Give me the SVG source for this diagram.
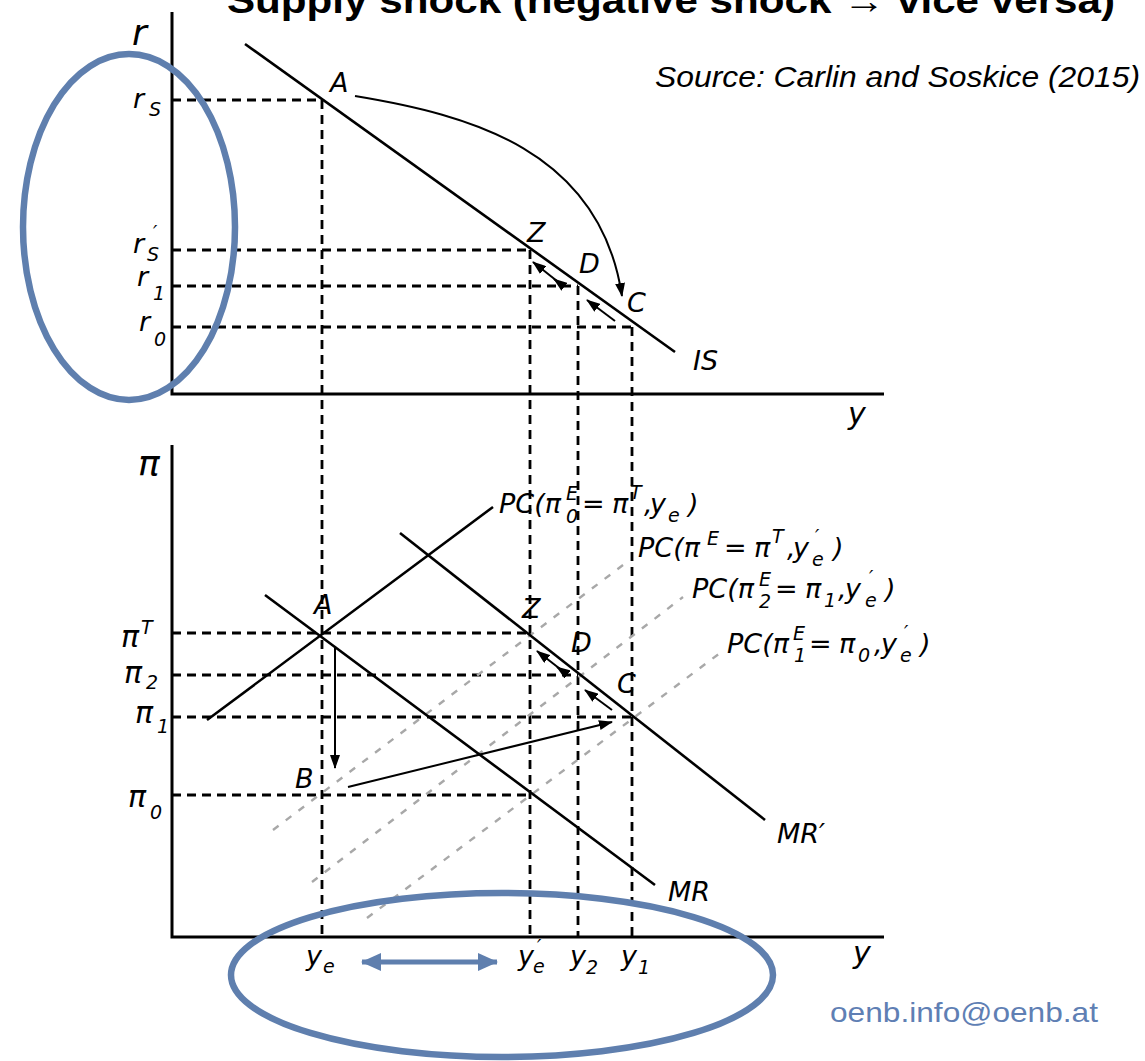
<svg xmlns="http://www.w3.org/2000/svg" width="1145" height="1061" viewBox="0 0 1145 1061">
<style>
.ax{stroke:#000;stroke-width:3;fill:none}
.ln{stroke:#000;stroke-width:2.6;fill:none}
.dash{stroke:#000;stroke-width:2.8;stroke-dasharray:9 6;fill:none}
.grey{stroke:#a8a8a8;stroke-width:2.4;stroke-dasharray:7 9;fill:none}
.arr{stroke:#000;stroke-width:2;fill:none;marker-end:url(#ah)}
.blue{stroke:#5f7fae;stroke-width:6.5;fill:none}
.t{font-family:"DejaVu Sans","Open Sans",sans-serif;font-style:italic;font-size:27px;fill:#000}
.s{font-size:19px}
.big{font-size:36px}
</style>
<defs>
<marker id="ah" markerUnits="userSpaceOnUse" markerWidth="14" markerHeight="10" refX="13" refY="5" orient="auto">
<path d="M0,0 L14,5 L0,10 z" fill="#000"/>
</marker>
<marker id="bh" markerUnits="userSpaceOnUse" markerWidth="20" markerHeight="18" refX="19" refY="9" orient="auto-start-reverse">
<path d="M0,0 L20,9 L0,18 z" fill="#5f7fae"/>
</marker>
</defs>

<text id="title" x="227" y="13" font-family="Liberation Sans, Arial, sans-serif" font-weight="bold" font-size="36" textLength="888" lengthAdjust="spacingAndGlyphs">Supply shock (negative shock → vice versa)</text>
<text id="source" x="655" y="87" font-family="Liberation Sans, Arial, sans-serif" font-style="italic" font-size="29" textLength="485" lengthAdjust="spacingAndGlyphs">Source: Carlin and Soskice (2015)</text>
<text id="email" x="830" y="1022" font-family="Liberation Sans, Arial, sans-serif" font-size="28" fill="#5f7fb4" textLength="268" lengthAdjust="spacingAndGlyphs">oenb.info@oenb.at</text>

<g id="axes">
<path class="ax" d="M172,12 V394 H884"/>
<path class="ax" d="M172,445 V937 H884"/>
</g>

<g id="connectors">
<path class="dash" d="M172,100 H322"/>
<path class="dash" d="M172,250 H530"/>
<path class="dash" d="M172,286 H578"/>
<path class="dash" d="M172,327 H632"/>
<path class="dash" d="M322,100 V937"/>
<path class="dash" d="M530,250 V937"/>
<path class="dash" d="M578,286 V937"/>
<path class="dash" d="M632,327 V937"/>
<path class="dash" d="M172,633 H530"/>
<path class="dash" d="M172,675 H578"/>
<path class="dash" d="M172,717 H632"/>
<path class="dash" d="M172,795 H530"/>
<path class="grey" d="M273,830 L627,562"/>
<path class="grey" d="M312,882 L683,597"/>
<path class="grey" d="M367,918 L720,653"/>
<path class="ln" d="M245,44 L675,352"/>
<path class="ln" d="M207,720 L493,507"/>
<path class="ln" d="M265,595 L655,885"/>
<path class="ln" d="M400,533 L765,820"/>
<path class="arr" d="M355,96 C470,115 600,150 622,296"/>
<path class="arr" d="M615,321 L587,300"/>
<path class="arr" d="M562,285 L533,262"/>
<path class="arr" d="M562,285 L554,279"/>
<path class="arr" d="M335,648 V768"/>
<path class="arr" d="M348,787 L612,722"/>
<path class="arr" d="M612,710 L585,690"/>
<path class="arr" d="M564,672 L537,651"/>
<path class="arr" d="M564,672 L557,667"/>
<ellipse class="blue" cx="129" cy="227" rx="106" ry="173"/>
<ellipse class="blue" cx="502" cy="975" rx="271" ry="82"/>
<path d="M362,962 H497" stroke="#5f7fae" stroke-width="5" marker-start="url(#bh)" marker-end="url(#bh)"/>
</g>

<g id="top-labels">
<text class="t big" x="132" y="45">r</text>
<text class="t" x="133" y="108">r</text><text class="t s" x="149" y="116">S</text>
<text class="t" x="133" y="253">r</text><text class="t s" x="153" y="239">′</text><text class="t s" x="147" y="261">S</text>
<text class="t" x="137" y="286">r</text><text class="t s" x="153" y="300">1</text>
<text class="t" x="139" y="331">r</text><text class="t s" x="154" y="346">0</text>
<text class="t" x="330" y="92">A</text>
<text class="t" x="527" y="242">Z</text>
<text class="t" x="579" y="273">D</text>
<text class="t" x="627" y="312">C</text>
<text class="t" x="693" y="370">IS</text>
<text class="t" x="848" y="424" style="font-size:30px">y</text>
</g>

<g id="bottom-labels">
<text class="t big" x="138" y="476">π</text>
<text class="t" x="121" y="647" style="font-size:30px">π</text><text class="t s" x="141" y="634">T</text>
<text class="t" x="124" y="683" style="font-size:30px">π</text><text class="t s" x="146" y="689">2</text>
<text class="t" x="135" y="723" style="font-size:30px">π</text><text class="t s" x="157" y="733">1</text>
<text class="t" x="128" y="807" style="font-size:30px">π</text><text class="t s" x="150" y="819">0</text>
<text class="t" x="314" y="614">A</text>
<text class="t" x="522" y="618">Z</text>
<text class="t" x="571" y="652">D</text>
<text class="t" x="617" y="693">C</text>
<text class="t" x="295" y="788">B</text>
<text class="t" x="668" y="901">MR</text>
<text class="t" x="777" y="843">MR′</text>
<text class="t" x="306" y="965">y</text><text class="t s" x="323" y="973">e</text>
<text class="t" x="518" y="965">y</text><text class="t s" x="537" y="953">′</text><text class="t s" x="533" y="973">e</text>
<text class="t" x="570" y="965">y</text><text class="t s" x="586" y="974">2</text>
<text class="t" x="621" y="965">y</text><text class="t s" x="638" y="974">1</text>
<text class="t" x="853" y="963" style="font-size:30px">y</text>
</g>

<g id="pc-labels">
<text class="t"><tspan x="499" y="513">PC(π</tspan><tspan class="s" x="566" y="500">E</tspan><tspan class="s" x="566" y="523">0</tspan><tspan x="582" y="513">=</tspan><tspan x="612" y="513">π</tspan><tspan class="s" x="630" y="499">T</tspan><tspan x="644" y="513">,</tspan><tspan x="650" y="513">y</tspan><tspan class="s" x="668" y="522">e</tspan><tspan x="688" y="513">)</tspan></text>
<text class="t"><tspan x="638" y="557">PC(π</tspan><tspan class="s" x="707" y="545">E</tspan><tspan x="724" y="557">=</tspan><tspan x="754" y="557">π</tspan><tspan class="s" x="772" y="543">T</tspan><tspan x="787" y="557">,</tspan><tspan x="793" y="557">y</tspan><tspan class="s" x="815" y="543">′</tspan><tspan class="s" x="812" y="566">e</tspan><tspan x="833" y="557">)</tspan></text>
<text class="t"><tspan x="692" y="598">PC(π</tspan><tspan class="s" x="759" y="586">E</tspan><tspan class="s" x="759" y="608">2</tspan><tspan x="775" y="598">=</tspan><tspan x="805" y="598">π</tspan><tspan class="s" x="824" y="607">1</tspan><tspan x="838" y="598">,</tspan><tspan x="845" y="598">y</tspan><tspan class="s" x="869" y="584">′</tspan><tspan class="s" x="865" y="607">e</tspan><tspan x="885" y="598">)</tspan></text>
<text class="t"><tspan x="727" y="653">PC(π</tspan><tspan class="s" x="793" y="640">E</tspan><tspan class="s" x="794" y="662">1</tspan><tspan x="809" y="653">=</tspan><tspan x="839" y="653">π</tspan><tspan class="s" x="858" y="662">0</tspan><tspan x="874" y="653">,</tspan><tspan x="881" y="653">y</tspan><tspan class="s" x="904" y="639">′</tspan><tspan class="s" x="900" y="662">e</tspan><tspan x="920" y="653">)</tspan></text>
</g>
</svg>
